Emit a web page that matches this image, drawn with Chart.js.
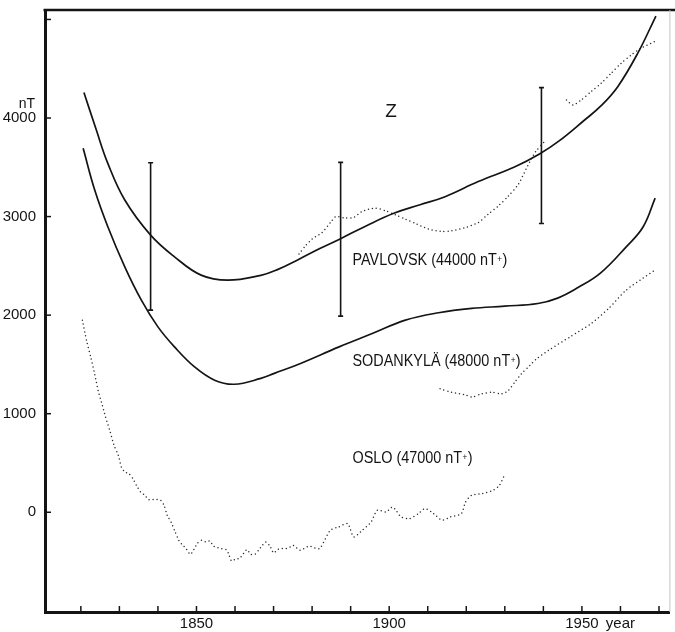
<!DOCTYPE html>
<html>
<head>
<meta charset="utf-8">
<script src="https://cdn.jsdelivr.net/npm/chart.js@4.4.1/dist/chart.umd.min.js"></script>
<style>
  html, body { margin: 0; padding: 0; background: #fff; }
  #wrap { width: 675px; height: 632px; }
</style>
</head>
<body>
<div id="wrap"><canvas id="zChart" width="675" height="632"></canvas></div>
<script>
// ====== Secular variation of Z (nT) ======

// axis ticks
const xTickYears = [1820, 1830, 1840, 1850, 1860, 1870, 1880, 1890, 1900, 1910, 1920, 1930, 1940, 1950, 1960, 1970];
const xTickLabels = { 1850: '1850', 1900: '1900', 1950: '1950', 1960: 'year' };
const yTickValues = [0, 1000, 2000, 3000, 4000, 5000];
const yTickLabels = { 0: '0', 1000: '1000', 2000: '2000', 3000: '3000', 4000: '4000' };

// Pavlovsk, smooth curve
const pavYears  = [1820.8, 1824, 1827, 1831.4, 1838.1, 1844.3, 1851.2, 1858.1, 1866.7, 1871, 1876.6, 1882, 1887.4, 1894, 1901.2, 1908, 1914.5, 1923.1, 1932.5, 1939, 1944, 1950.7, 1955, 1959.3, 1964.5, 1969.2];
const pavValues = [4260, 3880, 3540, 3168, 2812, 2592, 2406, 2355, 2404, 2462, 2568, 2676, 2776, 2905, 3033, 3120, 3202, 3355, 3503, 3635, 3765, 3980, 4125, 4318, 4658, 5035];

// Pavlovsk, observed (dotted), gap 1941-1946
const pavObsYears  = [1876.6, 1878.3, 1880, 1882.6, 1884.8, 1886.1, 1888.7, 1890.8, 1893, 1896.4, 1899, 1901.6, 1904.2, 1906.8, 1910.2, 1913.6, 1916.2, 1919.7, 1923.1, 1925.7, 1928.3, 1930.9, 1933.5, 1936, 1938, 1940.3, 1943, 1946, 1947.7, 1949.8, 1952.4, 1955, 1957.6, 1960.2, 1962.8, 1965.3, 1968.8];
const pavObsValues = [2620, 2704, 2772, 2839, 2941, 2998, 2985, 2991, 3052, 3086, 3059, 3018, 2974, 2930, 2873, 2849, 2855, 2888, 2939, 3025, 3107, 3208, 3327, 3520, 3660, 3760, null, 4183, 4132, 4183, 4268, 4352, 4454, 4556, 4640, 4708, 4775];

// Sodankyla, smooth curve
const sodYears  = [1820.6, 1823.6, 1827, 1831.4, 1835.7, 1840, 1844.3, 1849.5, 1854.7, 1859.8, 1866.7, 1870.2, 1877, 1887, 1895.6, 1904.2, 1912.8, 1921.4, 1930, 1938.6, 1943.7, 1949, 1954.8, 1961.5, 1965.9, 1969];
const sodValues = [3693, 3269, 2897, 2490, 2152, 1881, 1678, 1475, 1340, 1299, 1358, 1409, 1510, 1678, 1813, 1949, 2024, 2068, 2091, 2118, 2173, 2280, 2426, 2693, 2897, 3188];

// Sodankyla, observed (dotted)
const sodObsYears  = [1913.2, 1916.2, 1919.7, 1921.4, 1924, 1926.6, 1929.2, 1930.9, 1932.6, 1934.3, 1936.5, 1938.2, 1941.4, 1947, 1952.6, 1957, 1961.5, 1965.9, 1969];
const sodObsValues = [1252, 1218, 1191, 1168, 1201, 1218, 1201, 1235, 1320, 1404, 1489, 1556, 1645, 1781, 1920, 2070, 2254, 2376, 2457];

// Oslo, observed (dotted)
const osloYears  = [1820.4, 1821.5, 1822.5, 1823.6, 1824.5, 1825.5, 1826.4, 1827.5, 1828.6, 1829.7, 1830.5, 1831.4, 1832.4, 1833.5, 1834.4, 1835.5, 1836.6, 1837.6, 1838.7, 1839.6, 1840.7, 1841.6, 1842.4, 1843.5, 1844.3, 1845.4, 1846.2, 1847.3, 1848.4, 1849.3, 1850.3, 1851.4, 1852.5, 1853.4, 1854.5, 1855.5, 1856.5, 1857.7, 1858.3, 1859.1, 1860.3, 1861.1, 1862.2, 1863.1, 1864.1, 1865.2, 1866.1, 1867.1, 1868, 1869.1, 1870, 1871, 1872, 1873.2, 1874.3, 1875.1, 1876.9, 1879.2, 1881.9, 1884.7, 1886.9, 1889.2, 1890.8, 1893, 1895.3, 1896.9, 1899.2, 1900.9, 1903.1, 1905.3, 1907.6, 1909.3, 1911.5, 1913.7, 1915.9, 1918.7, 1919.8, 1921.4, 1924.2, 1927, 1928.6, 1929.7];
const osloValues = [1949, 1739, 1584, 1401, 1232, 1096, 967, 832, 680, 579, 460, 410, 393, 342, 274, 206, 172, 129, 129, 129, 122, 71, -30, -108, -183, -284, -325, -369, -426, -379, -312, -284, -301, -291, -345, -358, -369, -379, -419, -494, -470, -470, -419, -379, -426, -426, -386, -335, -301, -345, -413, -379, -369, -369, -352, -335, -385, -345, -368, -183, -149, -115, -250, -183, -99, 20, 3, 54, -47, -64, -14, 37, -14, -81, -47, -14, 104, 172, 189, 223, 273, 359];

// Pavlovsk error bars
const errYears = [1838.1, 1887.4, 1939.5];
const errLow   = [2051, 1990, 2930];
const errHigh  = [3546, 3550, 4308];

const ink = '#141414';
const pts = (xs, ys) => xs.map((x, i) => ({ x: x, y: ys[i] }));

function solid(xs, ys) {
  return { data: pts(xs, ys), borderColor: ink, borderWidth: 1.7, pointRadius: 0, tension: 0.4, fill: false };
}
function dotted(xs, ys) {
  return { data: pts(xs, ys), borderColor: '#2a2a2a', borderWidth: 1.5, borderDash: [0, 4], borderCapStyle: 'round',
           pointRadius: 0, tension: 0.25, fill: false, spanGaps: false };
}

let datasets = [
  solid(pavYears, pavValues),
  solid(sodYears, sodValues),
  dotted(pavObsYears, pavObsValues),
  dotted(sodObsYears, sodObsValues),
  dotted(osloYears, osloValues)
];
errYears.forEach((yr, i) => {
  datasets.push({
    data: [{ x: yr, y: errLow[i] }, { x: yr, y: errHigh[i] }],
    borderColor: ink, borderWidth: 1.6, tension: 0,
    pointStyle: 'line', pointRadius: 2.5, pointBorderWidth: 1.6, pointBorderColor: ink
  });
});

// small helper: condensed label with a small "+"
function stationLabel(ctx, name, offset, x, y) {
  ctx.save();
  ctx.translate(x, y);
  ctx.scale(0.9, 1);
  ctx.textBaseline = 'alphabetic';
  ctx.textAlign = 'left';
  ctx.font = '16px "Liberation Sans", Arial, sans-serif';
  let s = name + ' (' + offset + ' nT';
  ctx.fillText(s, 0, 0);
  let w = ctx.measureText(s).width;
  ctx.font = '9px "Liberation Sans", Arial, sans-serif';
  ctx.fillText('+', w + 0.5, -3);
  w += ctx.measureText('+').width + 1;
  ctx.font = '16px "Liberation Sans", Arial, sans-serif';
  ctx.fillText(')', w, 0);
  ctx.restore();
}

const decor = {
  id: 'decor',
  afterDraw(chart) {
    const { ctx, chartArea: a, scales: { x, y } } = chart;
    ctx.save();
    ctx.strokeStyle = ink;
    ctx.fillStyle = ink;
    // top frame line
    ctx.lineWidth = 2.6;
    ctx.beginPath();
    ctx.moveTo(a.left - 1.5, a.top);
    ctx.lineTo(chart.width, a.top);
    ctx.stroke();
    // faint right edge
    ctx.strokeStyle = '#c4c4c4';
    ctx.lineWidth = 1;
    ctx.beginPath();
    ctx.moveTo(a.right + 0.5, a.top);
    ctx.lineTo(a.right + 0.5, a.bottom);
    ctx.stroke();
    // ticks pointing inwards
    ctx.strokeStyle = ink;
    ctx.lineWidth = 1.5;
    xTickYears.forEach(v => {
      const px = x.getPixelForValue(v);
      ctx.beginPath();
      ctx.moveTo(px, a.bottom);
      ctx.lineTo(px, a.bottom - 6);
      ctx.stroke();
    });
    yTickValues.forEach(v => {
      const py = y.getPixelForValue(v);
      ctx.beginPath();
      ctx.moveTo(a.left, py);
      ctx.lineTo(a.left + 6, py);
      ctx.stroke();
    });
    // unit and title
    ctx.font = '14px "Liberation Sans", Arial, sans-serif';
    ctx.textAlign = 'right';
    ctx.textBaseline = 'alphabetic';
    ctx.fillText('nT', 35, 108);
    ctx.font = '19px "Liberation Sans", Arial, sans-serif';
    ctx.textAlign = 'center';
    ctx.fillText('Z', 391, 117);
    // station labels
    stationLabel(ctx, 'PAVLOVSK', '44000', 352.5, 265);
    stationLabel(ctx, 'SODANKYLÄ', '48000', 352.5, 366);
    stationLabel(ctx, 'OSLO', '47000', 352.5, 463);
    ctx.restore();
  }
};

const tickFont = { family: '"Liberation Sans", Arial, sans-serif', size: 15 };

new Chart(document.getElementById('zChart').getContext('2d'), {
  type: 'line',
  data: { datasets: datasets },
  options: {
    responsive: false,
    animation: false,
    events: [],
    layout: { padding: { left: 0, right: 3, top: 10, bottom: 0 } },
    plugins: { legend: { display: false }, tooltip: { enabled: false } },
    scales: {
      x: {
        type: 'linear',
        min: 1810.7,
        max: 1972.7,
        afterBuildTicks: s => { s.ticks = Object.keys(xTickLabels).map(v => ({ value: +v })); },
        afterFit: s => { s.height = 20; s.paddingLeft = 0; s.paddingRight = 0; },
        grid: { display: false, drawTicks: false },
        border: { display: true, color: ink, width: 3 },
        ticks: {
          autoSkip: false, maxRotation: 0, padding: 3, color: ink, font: tickFont,
          callback: v => xTickLabels[v] || ''
        }
      },
      y: {
        type: 'linear',
        min: -1012,
        max: 5096,
        afterBuildTicks: s => { s.ticks = Object.keys(yTickLabels).map(v => ({ value: +v })); },
        afterFit: s => { s.width = 45; s.paddingTop = 0; s.paddingBottom = 0; },
        grid: { display: false, drawTicks: false },
        border: { display: true, color: ink, width: 3 },
        ticks: {
          autoSkip: false, padding: 9, color: ink, font: tickFont,
          callback: v => (yTickLabels[v] !== undefined ? yTickLabels[v] : '')
        }
      }
    }
  },
  plugins: [decor]
});
</script>
</body>
</html>
